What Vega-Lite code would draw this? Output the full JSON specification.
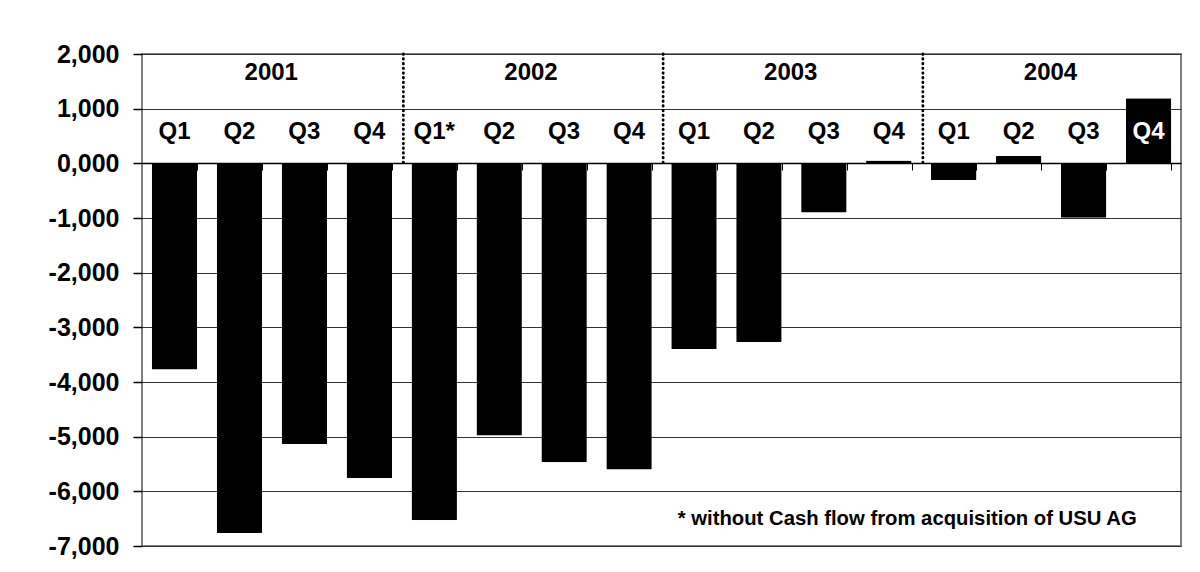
{
  "$schema": "https://vega.github.io/schema/vega-lite/v6.json",
  "width": 1039,
  "height": 492,
  "autosize": {"type": "none"},
  "padding": {"left": 142, "top": 54, "right": 19, "bottom": 26},
  "background": "white",
  "config": {
    "view": {"stroke": "#808080", "strokeWidth": 2},
    "font": "Liberation Sans"
  },
  "data": {
    "values": [
      {"period": "2001 Q1", "year": "2001", "label": "Q1", "value": -3770},
      {"period": "2001 Q2", "year": "2001", "label": "Q2", "value": -6760},
      {"period": "2001 Q3", "year": "2001", "label": "Q3", "value": -5135},
      {"period": "2001 Q4", "year": "2001", "label": "Q4", "value": -5760},
      {"period": "2002 Q1", "year": "2002", "label": "Q1*", "value": -6530},
      {"period": "2002 Q2", "year": "2002", "label": "Q2", "value": -4980},
      {"period": "2002 Q3", "year": "2002", "label": "Q3", "value": -5470},
      {"period": "2002 Q4", "year": "2002", "label": "Q4", "value": -5600},
      {"period": "2003 Q1", "year": "2003", "label": "Q1", "value": -3400},
      {"period": "2003 Q2", "year": "2003", "label": "Q2", "value": -3270},
      {"period": "2003 Q3", "year": "2003", "label": "Q3", "value": -900},
      {"period": "2003 Q4", "year": "2003", "label": "Q4", "value": 50},
      {"period": "2004 Q1", "year": "2004", "label": "Q1", "value": -305},
      {"period": "2004 Q2", "year": "2004", "label": "Q2", "value": 135},
      {"period": "2004 Q3", "year": "2004", "label": "Q3", "value": -995},
      {"period": "2004 Q4", "year": "2004", "label": "Q4", "value": 1190}
    ]
  },
  "layer": [
    {
      "mark": {"type": "bar", "color": "#000000", "cornerRadius": 1},
      "encoding": {
        "x": {
          "field": "period",
          "type": "nominal",
          "sort": null,
          "scale": {
            "domain": ["2001 Q1", "2001 Q2", "2001 Q3", "2001 Q4", "2002 Q1", "2002 Q2", "2002 Q3", "2002 Q4", "2003 Q1", "2003 Q2", "2003 Q3", "2003 Q4", "2004 Q1", "2004 Q2", "2004 Q3", "2004 Q4"],
            "paddingInner": 0.3,
            "paddingOuter": 0.15
          },
          "axis": {
            "orient": "bottom",
            "offset": -383,
            "title": null,
            "labels": false,
            "grid": false,
            "domain": true,
            "domainColor": "#000000",
            "domainWidth": 1.5,
            "ticks": true,
            "tickBand": "extent",
            "tickSize": 7,
            "tickColor": "#000000",
            "tickWidth": 1
          }
        },
        "y": {
          "field": "value",
          "type": "quantitative",
          "scale": {"domain": [-7000, 2000], "nice": false, "zero": true},
          "axis": {
            "title": null,
            "values": [-7000, -6000, -5000, -4000, -3000, -2000, -1000, 0, 1000, 2000],
            "labelExpr": "datum.value == 0 ? '0,000' : (datum.value < 0 ? '-' : '') + format(abs(datum.value), ',')",
            "labelFontSize": 25,
            "labelFontWeight": "bold",
            "labelColor": "#000000",
            "labelPadding": 14,
            "domain": false,
            "ticks": true,
            "tickSize": 9,
            "tickColor": "#000000",
            "tickWidth": 1.5,
            "grid": true,
            "gridColor": "#333333",
            "gridWidth": 1
          }
        }
      }
    },
    {
      "transform": [{"filter": "datum.label == 'Q4' && datum.year != '2004'"}],
      "mark": {"type": "rule", "color": "#000000", "strokeWidth": 2.8, "strokeDash": [0.5, 4.2], "strokeCap": "round"},
      "encoding": {
        "x": {"field": "period", "type": "nominal", "bandPosition": 1.25},
        "y": {"datum": 2000, "type": "quantitative"},
        "y2": {"datum": 0}
      }
    },
    {
      "mark": {"type": "text", "fontSize": 24, "fontWeight": "bold", "baseline": "middle", "align": "center"},
      "encoding": {
        "x": {"field": "period", "type": "nominal", "bandPosition": 0.5},
        "y": {"datum": 570, "type": "quantitative"},
        "text": {"field": "label"},
        "color": {
          "condition": {"test": "datum.value > 600", "value": "#ffffff"},
          "value": "#000000"
        }
      }
    },
    {
      "transform": [{"filter": "datum.label == 'Q2'"}],
      "mark": {"type": "text", "fontSize": 24, "fontWeight": "bold", "baseline": "middle", "align": "center", "color": "#000000"},
      "encoding": {
        "x": {"field": "period", "type": "nominal", "bandPosition": 1.2},
        "y": {"datum": 1660, "type": "quantitative"},
        "text": {"field": "year"}
      }
    },
    {
      "data": {"values": [{"period": "2004 Q4", "note": "* without Cash flow from acquisition of USU AG"}]},
      "mark": {"type": "text", "fontSize": 20.3, "fontWeight": "bold", "baseline": "middle", "align": "right", "color": "#000000"},
      "encoding": {
        "x": {"field": "period", "type": "nominal", "bandPosition": 0.24},
        "y": {"datum": -6500, "type": "quantitative"},
        "text": {"field": "note"}
      }
    }
  ]
}
